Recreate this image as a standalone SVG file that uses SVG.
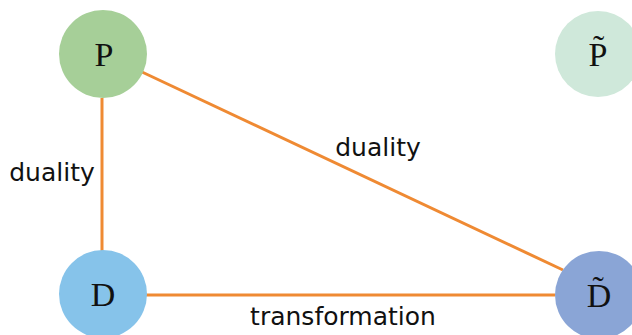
<svg xmlns="http://www.w3.org/2000/svg" width="632" height="335" viewBox="0 0 632 335">
<style>
.node{stroke:none}
.lbl{font-family:"Liberation Serif","Times New Roman",serif;font-size:34px;fill:#111;text-anchor:middle}
.edge{stroke:#ef8a33;stroke-width:3;fill:none}
.elbl{font-family:"DejaVu Sans","Open Sans",sans-serif;font-size:25px;fill:#111;text-anchor:middle}
</style>
<rect width="632" height="335" fill="#ffffff"/>
<g id="connectors">
<line class="edge" x1="102" y1="98" x2="102" y2="251"/>
<line class="edge" x1="146" y1="295" x2="555" y2="295"/>
<line class="edge" x1="142" y1="72" x2="563" y2="270"/>
<text class="elbl" x="52" y="181">duality</text>
<text class="elbl" x="378" y="156">duality</text>
<text class="elbl" x="343" y="325">transformation</text>
</g>
<g id="P">
<circle class="node" cx="103" cy="54" r="44" fill="#a6cf98"/>
<text class="lbl" x="104" y="66">P</text>
</g>
<g id="Ptilde">
<circle class="node" cx="598" cy="54" r="43" fill="#cfe8da"/>
<text class="lbl" x="598" y="66">P&#x303;</text>
</g>
<g id="D">
<circle class="node" cx="103" cy="294" r="44" fill="#86c3ea"/>
<text class="lbl" x="103" y="306">D</text>
</g>
<g id="Dtilde">
<circle class="node" cx="599" cy="295" r="44" fill="#8aa5d6"/>
<text class="lbl" x="599" y="307">D&#x303;</text>
</g>
</svg>
